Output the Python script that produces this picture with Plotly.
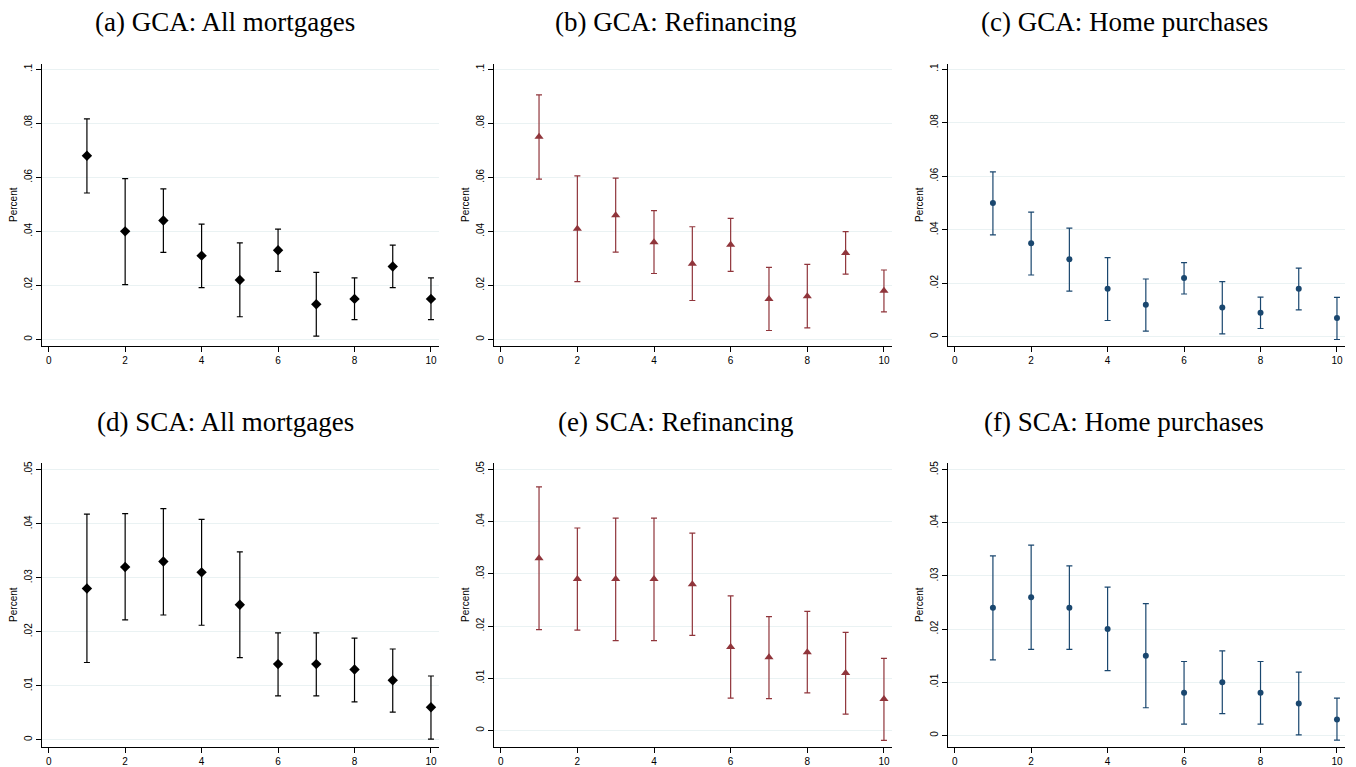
import plotly.graph_objects as go

W, H = 1356, 767

periods = [1, 2, 3, 4, 5, 6, 7, 8, 9, 10]

a_est = [0.068, 0.040, 0.044, 0.031, 0.022, 0.033, 0.013, 0.015, 0.027, 0.015]
a_hi = [0.0816, 0.0595, 0.0557, 0.0427, 0.0357, 0.0408, 0.0248, 0.0228, 0.0349, 0.0228]
a_lo = [0.0542, 0.0203, 0.0322, 0.0192, 0.0084, 0.0252, 0.0012, 0.0073, 0.0192, 0.0073]

b_est = [0.075, 0.041, 0.046, 0.036, 0.028, 0.035, 0.015, 0.016, 0.032, 0.018]
b_hi = [0.0905, 0.0605, 0.0597, 0.0477, 0.0417, 0.0448, 0.0267, 0.0278, 0.0399, 0.0257]
b_lo = [0.0593, 0.0214, 0.0323, 0.0244, 0.0144, 0.0252, 0.0033, 0.0043, 0.0242, 0.0102]

c_est = [0.050, 0.035, 0.029, 0.018, 0.012, 0.022, 0.011, 0.009, 0.018, 0.007]
c_hi = [0.0616, 0.0466, 0.0406, 0.0296, 0.0216, 0.0277, 0.0206, 0.0148, 0.0257, 0.0147]
c_lo = [0.0381, 0.0231, 0.0171, 0.0061, 0.0021, 0.0160, 0.0011, 0.0031, 0.0101, -0.0010]

d_est = [0.028, 0.032, 0.033, 0.031, 0.025, 0.014, 0.014, 0.013, 0.011, 0.006]
d_hi = [0.0418, 0.0419, 0.0428, 0.0408, 0.0348, 0.0198, 0.0198, 0.0188, 0.0168, 0.0118]
d_lo = [0.0143, 0.0222, 0.0231, 0.0212, 0.0152, 0.0081, 0.0081, 0.0070, 0.0051, 0.0001]

e_est = [0.033, 0.029, 0.029, 0.029, 0.028, 0.016, 0.014, 0.015, 0.011, 0.006]
e_hi = [0.0467, 0.0388, 0.0407, 0.0407, 0.0378, 0.0258, 0.0218, 0.0228, 0.0188, 0.0138]
e_lo = [0.0193, 0.0192, 0.0172, 0.0172, 0.0182, 0.0062, 0.0061, 0.0072, 0.0031, -0.0019]

f_est = [0.024, 0.026, 0.024, 0.020, 0.015, 0.008, 0.010, 0.008, 0.006, 0.003]
f_hi = [0.0338, 0.0358, 0.0319, 0.0279, 0.0248, 0.0139, 0.0159, 0.0139, 0.0119, 0.0070]
f_lo = [0.0142, 0.0162, 0.0162, 0.0122, 0.0052, 0.0021, 0.0041, 0.0021, 0.0001, -0.0009]

titles = ["(a) GCA: All mortgages", "(b) GCA: Refinancing", "(c) GCA: Home purchases",
          "(d) SCA: All mortgages", "(e) SCA: Refinancing", "(f) SCA: Home purchases"]

xticks = [0, 2, 4, 6, 8, 10]
yticks_top = [0, 0.02, 0.04, 0.06, 0.08, 0.1]
ytext_top = ["0", ".02", ".04", ".06", ".08", ".1"]
yticks_bot = [0, 0.01, 0.02, 0.03, 0.04, 0.05]
ytext_bot = ["0", ".01", ".02", ".03", ".04", ".05"]
ytitle = "Percent"

panels = [
    (a_est, a_lo, a_hi), (b_est, b_lo, b_hi), (c_est, c_lo, c_hi),
    (d_est, d_lo, d_hi), (e_est, e_lo, e_hi), (f_est, f_lo, f_hi),
]

BLACK = "#000000"
MAROON = "#90353b"
NAVY = "#1a476f"
styles = [
    dict(color=BLACK, symbol="diamond", size=8),
    dict(color=MAROON, symbol="triangle-up", size=8),
    dict(color=NAVY, symbol="circle", size=6),
]

# layout geometry in pixels
col_x = [(42, 439), (494, 892), (948, 1345)]
row_y = [(62, 345), (462, 747)]
col_center = [225, 675, 1124]
title_y = [20, 421]
yranges = [[-0.00247, 0.102], [-0.00247, 0.102], [-0.00347, 0.102],
           [-0.00137, 0.0513], [-0.0032, 0.0513], [-0.0022, 0.0513]]

fig = go.Figure()
layout = {}
annotations = []
tick_font = dict(family="Liberation Sans, Arial, sans-serif", size=10, color="#000000")

for i, (est, lo, hi) in enumerate(panels):
    r, c = divmod(i, 3)
    st = styles[c]
    n = i + 1
    xname = "x" if n == 1 else f"x{n}"
    yname = "y" if n == 1 else f"y{n}"
    up = [h - e for h, e in zip(hi, est)]
    dn = [e - l for e, l in zip(est, lo)]
    fig.add_trace(go.Scatter(
        x=periods, y=est, mode="markers", xaxis=xname, yaxis=yname,
        marker=dict(color=st["color"], symbol=st["symbol"], size=st["size"], line=dict(width=0)),
        error_y=dict(type="data", symmetric=False, array=up, arrayminus=dn,
                     color=st["color"], thickness=1.2, width=3),
        showlegend=False, hoverinfo="skip",
    ))
    x0, x1 = col_x[c]
    y0, y1 = row_y[r]
    xkey = "xaxis" if n == 1 else f"xaxis{n}"
    ykey = "yaxis" if n == 1 else f"yaxis{n}"
    layout[xkey] = dict(
        domain=[x0 / W, x1 / W], anchor=yname, range=[-0.175, 10.21],
        tickvals=xticks, ticktext=[str(t) for t in xticks],
        showgrid=False, zeroline=False, showline=True, linecolor="#000000", linewidth=1,
        ticks="outside", ticklen=5, tickcolor="#000000", tickwidth=1,
        tickfont=tick_font,
    )
    yt, ytx = (yticks_top, ytext_top) if r == 0 else (yticks_bot, ytext_bot)
    layout[ykey] = dict(
        domain=[(H - y1) / H, (H - y0) / H], anchor=xname, range=yranges[i],
        tickvals=yt, ticktext=ytx, tickangle=-90,
        showgrid=True, gridcolor="#eaf2f3", gridwidth=1,
        zeroline=False, showline=True, linecolor="#000000", linewidth=1,
        ticks="outside", ticklen=5, tickcolor="#000000", tickwidth=1,
        tickfont=tick_font,
    )
    annotations.append(dict(
        text=titles[i], x=col_center[c] / W, y=(H - title_y[r]) / H,
        xref="paper", yref="paper", xanchor="center", yanchor="middle", showarrow=False,
        font=dict(family="Liberation Serif, Times New Roman, serif", size=27, color="#000000"),
    ))
    annotations.append(dict(
        text=ytitle, x=(x0 - 28) / W, y=(H - (y0 + y1) / 2) / H,
        xref="paper", yref="paper", xanchor="center", yanchor="middle", showarrow=False,
        textangle=-90,
        font=dict(family="Liberation Sans, Arial, sans-serif", size=10, color="#000000"),
    ))

fig.update_layout(
    width=W, height=H, autosize=False,
    margin=dict(l=0, r=0, t=0, b=0),
    paper_bgcolor="#ffffff", plot_bgcolor="#ffffff",
    annotations=annotations,
    **layout,
)

fig.write_html("out.html", config={"displayModeBar": False})
